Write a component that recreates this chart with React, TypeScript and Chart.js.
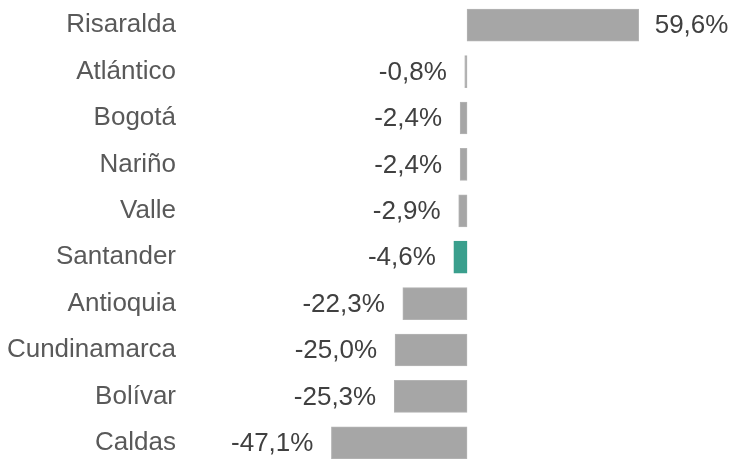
import React, { useEffect, useRef } from "react";
import { Chart, registerables } from "chart.js";

Chart.register(...registerables);

const categories = ["Risaralda", "Atlántico", "Bogotá", "Nariño", "Valle", "Santander", "Antioquia", "Cundinamarca", "Bolívar", "Caldas"];
const values = [59.6, -0.8, -2.4, -2.4, -2.9, -4.6, -22.3, -25.0, -25.3, -47.1];
const highlight = "Santander";

const FONT = "'Liberation Sans', Arial, sans-serif";

const fmt = (v: number) => v.toFixed(1).replace(".", ",") + "%";

const valueLabels = {
  id: "valueLabels",
  afterDatasetsDraw(chart: any) {
    const ctx = chart.ctx;
    const meta = chart.getDatasetMeta(0);
    ctx.save();
    ctx.font = `26px ${FONT}`;
    ctx.fillStyle = "#404040";
    ctx.textBaseline = "middle";
    meta.data.forEach((bar: any, i: number) => {
      const v = values[i];
      const props = bar.getProps(["x", "y", "base"], true);
      if (v >= 0) {
        ctx.textAlign = "left";
        ctx.fillText(fmt(v), props.x + 16, props.y + 1);
      } else {
        ctx.textAlign = "right";
        ctx.fillText(fmt(v), props.x - 18, props.y + 1);
      }
    });
    ctx.restore();
  },
};

export default function App() {
  const ref = useRef<HTMLCanvasElement>(null);
  useEffect(() => {
    document.body.style.margin = "0";
    const chart = new Chart(ref.current!, {
      type: "bar",
      data: {
        labels: categories,
        datasets: [
          {
            data: values,
            backgroundColor: categories.map((c) => (c === highlight ? "#3A9F8D" : "#A6A6A6")),
            borderColor: categories.map((c) => (c === highlight ? "#3A9F8D" : "#B4B4B4")),
            borderWidth: 1,
            borderSkipped: false,
            barThickness: 32,
          },
        ],
      },
      options: {
        indexAxis: "y",
        animation: false,
        responsive: true,
        maintainAspectRatio: false,
        layout: { padding: { top: 2, bottom: 0, left: 0, right: 0 } },
        plugins: { legend: { display: false }, tooltip: { enabled: false } },
        scales: {
          x: {
            min: -96.2,
            max: 92,
            display: false,
            grid: { display: false },
          },
          y: {
            grid: { display: false, drawTicks: false },
            border: { display: false },
            ticks: {
              color: "#595959",
              padding: 14,
              font: { family: FONT, size: 26 },
            },
            afterFit: (scale: any) => {
              scale.width = 190;
              scale.paddingTop = 0;
              scale.paddingBottom = 0;
            },
          },
        },
      },
      plugins: [valueLabels],
    });
    return () => chart.destroy();
  }, []);
  return (
    <div style={{ position: "fixed", left: 0, top: 0, width: 732, height: 459, overflow: "hidden", background: "#fff" }}>
      <div style={{ position: "relative", width: 732, height: 466 }}>
        <canvas ref={ref} />
      </div>
    </div>
  );
}
